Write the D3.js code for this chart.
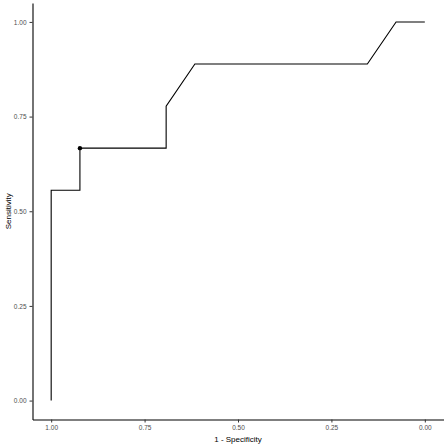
<!DOCTYPE html>
<html><head><meta charset="utf-8">
<script src="https://cdn.jsdelivr.net/npm/d3@7"></script>
<style>body{margin:0;background:#fff}svg{display:block}</style>
</head><body>
<script>
const specificity = [1, 1, 12/13, 12/13, 9/13, 9/13, 8/13, 2/13, 1/13, 0];
const sensitivity = [0, 5/9, 5/9, 6/9, 6/9, 7/9, 8/9, 8/9, 1, 1];
const bestPoint = [{spec: 12/13, sens: 6/9}];
const xTicks = [1, 0.75, 0.5, 0.25, 0];
const yTicks = [0, 0.25, 0.5, 0.75, 1];

const W = 447, H = 448;
const svg = d3.select("body").append("svg").attr("width", W).attr("height", H);
const panel = {l: 32.5, r: 443.5, t: 3, b: 419.5};
const x = d3.scaleLinear().domain([1.05, -0.05]).range([panel.l, panel.r]);
const y = d3.scaleLinear().domain([-0.05, 1.05]).range([panel.b, panel.t]);

const font = "Liberation Sans, Arial, sans-serif";

const xAxis = svg.append("g").attr("transform", `translate(0,${panel.b})`)
  .call(d3.axisBottom(x).tickValues(xTicks).tickFormat(d3.format(".2f")).tickSize(3).tickPadding(3).tickSizeOuter(0));
const yAxis = svg.append("g").attr("transform", `translate(${panel.l},0)`)
  .call(d3.axisLeft(y).tickValues(yTicks).tickFormat(d3.format(".2f")).tickSize(3).tickPadding(3).tickSizeOuter(0));
[xAxis, yAxis].forEach(g => {
  g.select(".domain").attr("stroke", "#000").attr("stroke-width", 1.1);
  g.selectAll(".tick line").attr("stroke", "#333").attr("stroke-width", 1);
  g.selectAll(".tick text").attr("fill", "#4d4d4d").style("font-family", font).style("font-size", "6.5px");
});

const data = specificity.map((s, i) => ({spec: s, sens: sensitivity[i]}));
svg.append("path").datum(data)
  .attr("fill", "none").attr("stroke", "#000").attr("stroke-width", 1.1)
  .attr("d", d3.line().x(d => x(d.spec)).y(d => y(d.sens)));

svg.selectAll("circle.best").data(bestPoint).enter().append("circle")
  .attr("cx", d => x(d.spec)).attr("cy", d => y(d.sens)).attr("r", 2.2).attr("fill", "#000");

svg.append("text").attr("x", (panel.l + panel.r) / 2).attr("y", 442)
  .attr("text-anchor", "middle").style("font-family", font).style("font-size", "8px").attr("fill", "#000")
  .text("1 - Specificity");
svg.append("text").attr("transform", `translate(11,${(panel.t + panel.b) / 2}) rotate(-90)`)
  .attr("text-anchor", "middle").style("font-family", font).style("font-size", "8px").attr("fill", "#000")
  .text("Sensitivity");
</script>
</body></html>
